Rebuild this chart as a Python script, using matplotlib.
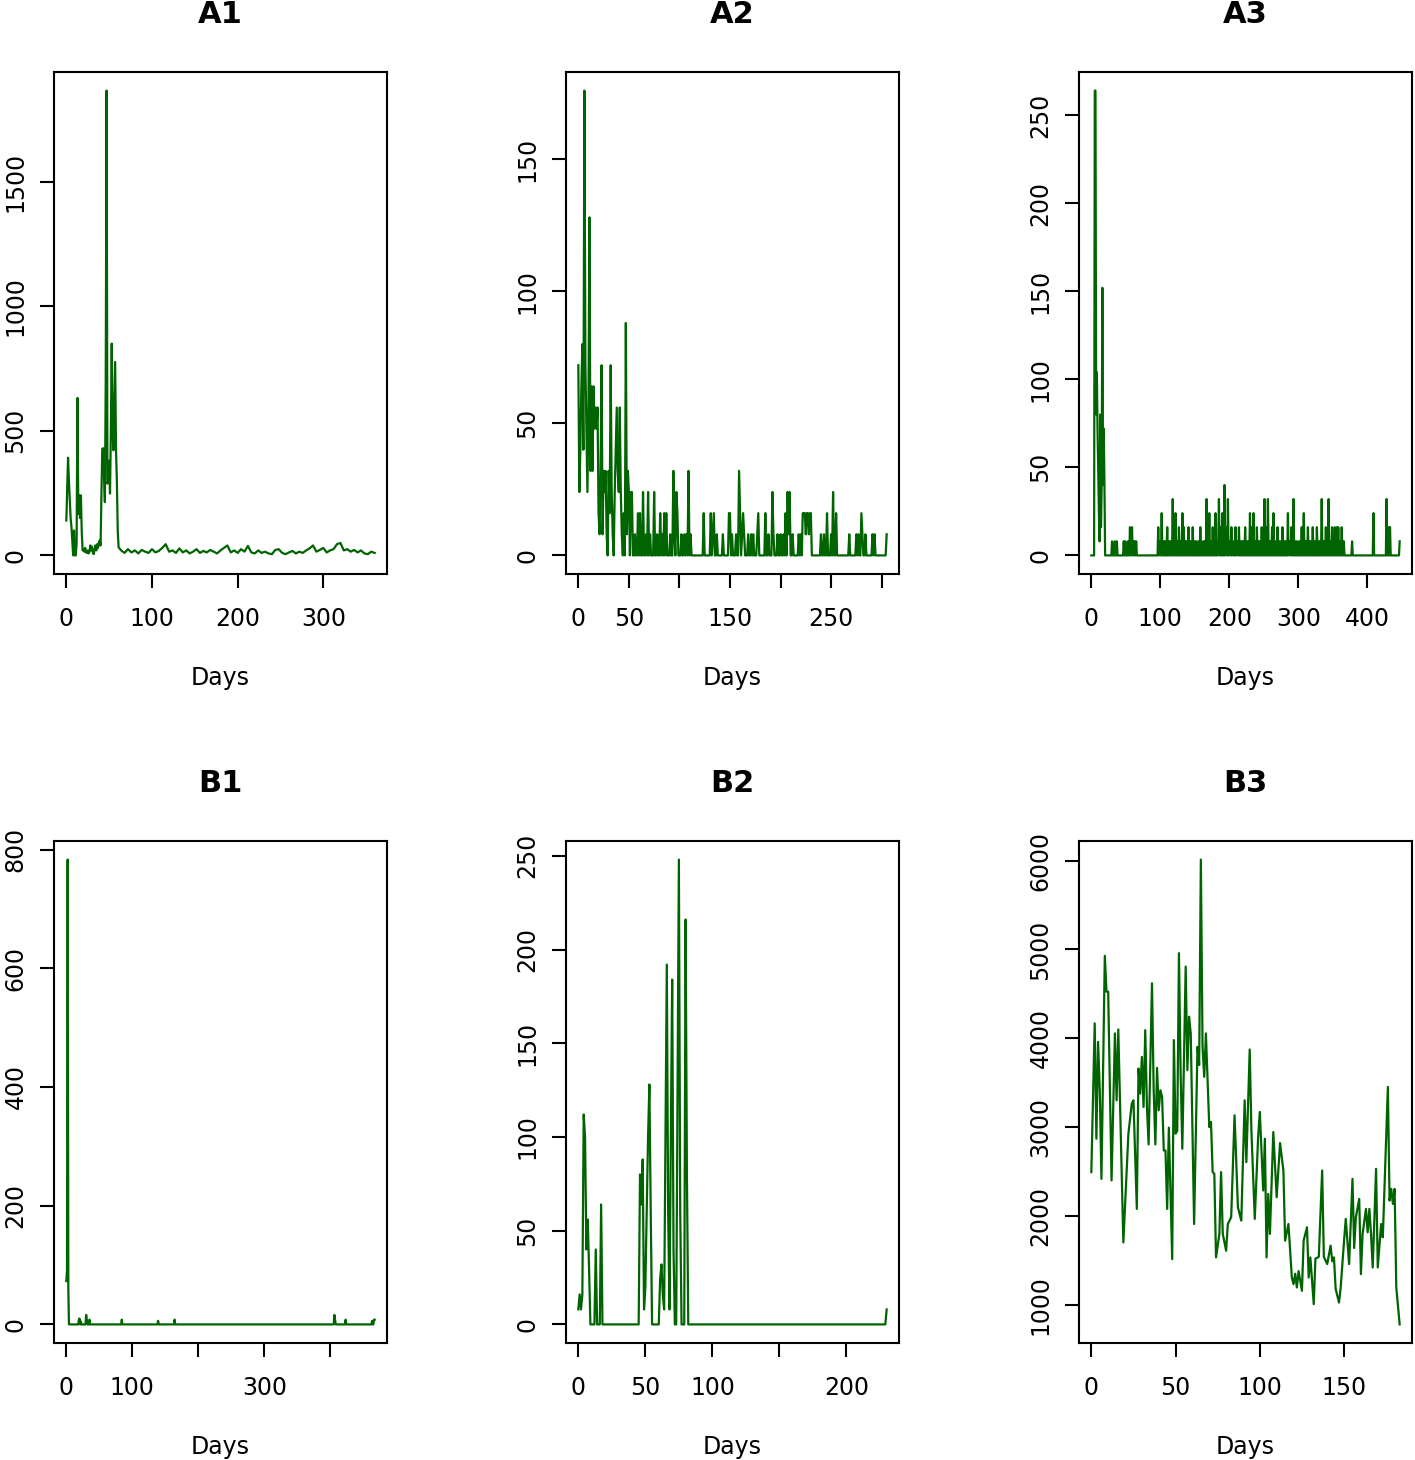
import numpy as np
from matplotlib import pyplot as plt

LINE = "#006400"

# ---- A1: daily counts, first 62 days, then every 4th day
a1_days = list(range(0, 62)) + list(range(64, 361, 4))
a1_vals = [140, 260, 392, 300, 220, 150, 114, 60, 0, 100, 0, 0, 50, 632, 167, 241,
           150, 241, 94, 20, 25, 15, 30, 12, 10, 20, 8, 15, 40, 20, 35, 10, 5, 25,
           40, 20, 45, 30, 50, 60, 40, 250, 428, 430, 330, 214, 700, 1865, 288, 300,
           380, 248, 500, 850, 500, 422, 600, 776, 422, 300, 100, 33,
           20, 10, 25, 12, 20, 8, 22, 15, 10, 25, 12, 18, 30, 45, 15, 20, 10, 28,
           12, 20, 8, 15, 25, 10, 18, 12, 22, 15, 8, 20, 30, 40, 12, 20, 10, 25,
           15, 38, 12, 8, 20, 10, 15, 8, 5, 22, 25, 10, 5, 12, 18, 8, 15, 10, 20,
           28, 40, 15, 22, 30, 12, 20, 25, 45, 50, 20, 25, 15, 22, 12, 20, 8, 5,
           15, 10]

# ---- A2: day -> count (days not listed are 0)
a2_len = 306
a2_days = list(range(0, 53)) + [
    53, 56, 59, 61, 64, 67, 69, 71, 75, 78, 81, 83, 85, 87, 91, 94, 95, 97, 98,
    102, 105, 107, 109, 111, 124, 131, 133, 134, 137, 143, 149, 150, 152, 156,
    159, 160, 162, 163, 164, 168, 171, 173, 177, 178, 185, 188, 192, 193, 197,
    200, 203, 205, 207, 208, 209, 212, 218, 220, 222, 223, 224, 225, 226, 227,
    228, 229, 230, 240, 243, 246, 250, 252, 255, 268, 275, 277, 280, 281, 284,
    291, 293, 305]
a2_vals = [72, 24, 40, 64, 80, 40, 176, 72, 48, 24, 56, 128, 32, 64, 32, 64, 48,
           56, 48, 56, 16, 8, 32, 72, 8, 32, 24, 32, 8, 0, 32, 16, 72, 24, 8, 0,
           24, 40, 56, 32, 24, 56, 24, 8, 0, 16, 0, 88, 8, 32, 24, 0, 24] + [
    24, 8, 16, 16, 24, 8, 24, 8, 24, 8, 16, 8, 16, 16, 8, 32, 8, 24, 16,
    8, 8, 8, 32, 8, 16, 16, 8, 16, 8, 8, 16, 16, 8, 8,
    32, 16, 8, 16, 8, 8, 8, 8, 8, 16, 16, 8, 24, 8, 8,
    8, 8, 16, 24, 8, 24, 8, 8, 8, 16, 16, 16, 8, 16, 16,
    8, 16, 16, 8, 8, 16, 8, 24, 16, 8, 8, 8, 16, 8, 8,
    8, 8, 8]

# ---- A3: day -> count (days not listed are 0)
a3_len = 448
a3_days = [5, 6, 7, 8, 9, 10, 11, 12, 13, 14, 15, 16, 17, 18, 19,
           30, 34, 37, 47, 49, 53, 56, 58, 59, 61, 63, 65,
           97, 99, 100, 102, 105, 107, 110, 112, 114, 116, 118, 120, 122, 124, 127,
           129, 132, 134, 136, 138, 141, 143, 145, 147, 150, 152, 155, 158, 160,
           163, 165, 167, 169, 171, 173, 176, 178, 180, 182, 184, 185, 188, 190,
           193, 195, 196, 198, 200, 201, 203, 205, 206, 209, 211, 212, 214, 217,
           219, 221, 223, 226, 228, 230, 233, 235, 238, 240, 243, 245, 247, 249,
           251, 254, 256, 258, 260, 262, 264, 267, 270, 272, 274, 277, 280, 282,
           285, 287, 288, 290, 293, 296, 298, 301, 303, 305, 308, 310, 312, 314,
           317, 319, 321, 324, 327, 330, 332, 334, 337, 340, 342, 344, 346, 349,
           351, 353, 356, 358, 361, 363, 366, 378, 409, 428, 431, 433, 447]
a3_vals = [264, 264, 80, 104, 72, 48, 24, 8, 80, 16, 40, 152, 40, 72, 40,
           8, 8, 8, 8, 8, 8, 16, 8, 16, 8, 8, 8,
           16, 8, 8, 24, 8, 8, 16, 8, 8, 8, 32, 16, 24, 8, 16,
           8, 24, 16, 8, 8, 16, 8, 8, 16, 8, 8, 8, 16, 8,
           8, 8, 32, 16, 24, 8, 16, 8, 24, 8, 8, 32, 16, 24,
           40, 16, 8, 32, 8, 8, 16, 8, 8, 16, 8, 8, 16, 8,
           8, 8, 16, 8, 8, 24, 16, 24, 8, 16, 8, 8, 16, 8,
           32, 16, 32, 8, 8, 16, 24, 8, 16, 8, 8, 16, 8, 8,
           24, 8, 8, 16, 32, 8, 8, 8, 8, 16, 24, 8, 8, 16,
           8, 8, 16, 8, 16, 8, 8, 32, 8, 16, 8, 32, 8, 16,
           8, 16, 16, 16, 8, 16, 8, 8, 24, 32, 16, 16, 8]

# ---- B1: day -> count (days not listed are 0)
b1_len = 468
b1_days = [0, 1, 2, 3, 19, 20, 22, 30, 31, 35, 84, 139, 164, 406, 407, 423, 463, 466, 467]
b1_vals = [73, 90, 783, 60, 8, 10, 5, 16, 8, 8, 8, 6, 8, 16, 8, 8, 6, 8, 8]

# ---- B2: day -> count (days not listed are 0)
b2_len = 231
b2_days = [0, 1, 2, 3, 4, 5, 6, 7, 8, 13, 17, 46, 47, 48, 49, 50, 51, 52, 53, 54,
           61, 62, 63, 64, 65, 66, 67, 68, 69, 70, 71, 74, 75, 76, 80, 81, 230]
b2_vals = [8, 16, 8, 16, 112, 100, 40, 56, 30, 40, 64, 80, 64, 88, 8, 20, 60, 100,
           128, 60, 24, 32, 16, 8, 100, 192, 60, 8, 100, 184, 40, 120, 248, 60,
           216, 80, 8]

# ---- B3: continuous series
b3_days = [0, 2, 3, 4, 5, 6, 8, 9, 10, 12, 14, 15, 16, 19, 22, 24, 25, 27, 28, 29,
           30, 31, 32, 33, 34, 35, 36, 37, 38, 39, 40, 41, 42, 43, 44, 45, 46, 48,
           49, 50, 51, 52, 53, 54, 56, 57, 58, 59, 61, 63, 64, 65, 66, 67, 68, 70,
           71, 72, 73, 74, 76, 77, 78, 80, 81, 83, 85, 87, 89, 91, 92, 94, 95, 97,
           99, 100, 102, 103, 104, 105, 106, 108, 110, 112, 114, 115, 117, 119,
           120, 121, 122, 123, 125, 126, 128, 129, 130, 132, 133, 135, 137, 138,
           140, 142, 143, 144, 145, 147, 148, 150, 151, 153, 155, 156, 157, 159,
           160, 161, 163, 164, 165, 166, 167, 169, 170, 172, 173, 176, 177, 178,
           179, 180, 181, 183]
b3_vals = [2494, 4168, 2870, 3960, 3415, 2418, 4928, 4525, 4525, 2400, 4055, 3302,
           4100, 1703, 2926, 3265, 3302, 2080, 3660, 3378, 3790, 3227, 4092, 3227,
           2806, 3700, 4619, 3415, 2806, 3667, 3190, 3415, 3340, 2738, 2738, 2080,
           2994, 1515, 3980, 2926, 2960, 4958, 3600, 2757, 4807, 3641, 4243, 4055,
           1910, 3904, 3700, 6011, 3904, 3566, 4055, 3001, 3058, 2494, 2475, 1534,
           1798, 2494, 1800, 1609, 1910, 1986, 3133, 2098, 1948, 3302, 2606, 3874,
           2964, 1967, 2889, 3171, 2287, 2870, 1534, 2249, 1798, 2945, 2211, 2821,
           2512, 1722, 1910, 1308, 1233, 1350, 1196, 1380, 1158, 1722, 1873, 1308,
           1534, 1008, 1520, 1540, 2512, 1540, 1459, 1666, 1490, 1534, 1180, 1026,
           1196, 1722, 1967, 1459, 2418, 1640, 1986, 2193, 1346, 1798, 2080, 1817,
           2080, 1798, 1421, 2531, 1421, 1910, 1760, 3453, 2174, 2305, 2136, 2305,
           1196, 780]

# axis ticks and which labels R printed
ticks = {
    "A1": ([0, 100, 200, 300], ["0", "100", "200", "300"], [0, 500, 1000, 1500]),
    "A2": ([0, 50, 100, 150, 200, 250, 300], ["0", "50", "", "150", "", "250", ""], [0, 50, 100, 150]),
    "A3": ([0, 100, 200, 300, 400], ["0", "100", "200", "300", "400"], [0, 50, 100, 150, 200, 250]),
    "B1": ([0, 100, 200, 300, 400], ["0", "100", "", "300", ""], [0, 200, 400, 600, 800]),
    "B2": ([0, 50, 100, 150, 200], ["0", "50", "100", "", "200"], [0, 50, 100, 150, 200, 250]),
    "B3": ([0, 50, 100, 150], ["0", "50", "100", "150"], [1000, 2000, 3000, 4000, 5000, 6000]),
}


def daily(n, days, vals):
    y = np.zeros(n)
    y[days] = vals
    return np.arange(n), y


series = {
    "A1": (a1_days, a1_vals),
    "A2": daily(a2_len, a2_days, a2_vals),
    "A3": daily(a3_len, a3_days, a3_vals),
    "B1": daily(b1_len, b1_days, b1_vals),
    "B2": daily(b2_len, b2_days, b2_vals),
    "B3": (b3_days, b3_vals),
}

W, H = 1415, 1460
fig = plt.figure(figsize=(W / 100, H / 100), dpi=100)

lefts = [54, 566, 1079]
tops = [72, 841]
bw, bh = 333, 502

for r, row in enumerate(["A", "B"]):
    for c in range(3):
        name = f"{row}{c + 1}"
        ax = fig.add_axes([lefts[c] / W, 1 - (tops[r] + bh) / H, bw / W, bh / H])
        x, y = series[name]
        ax.plot(x, y, color=LINE, lw=1.6)
        ax.margins(x=0.04, y=0.04)

        xt, xl, yt = ticks[name]
        ax.set_xticks(xt)
        ax.set_xticklabels(xl)
        ax.set_yticks(yt)
        ax.set_yticklabels([str(v) for v in yt], rotation=90, va="center")

        for s in ax.spines.values():
            s.set_linewidth(1.5)
        ax.tick_params(direction="out", length=10, width=1.5, labelsize=17)
        ax.tick_params(axis="x", pad=14)
        ax.tick_params(axis="y", pad=9)
        ax.set_xlabel("Days", fontsize=17, labelpad=25)
        ax.set_title(name, fontsize=22, fontweight="bold", pad=35)

plt.savefig("out.png", dpi=100)
